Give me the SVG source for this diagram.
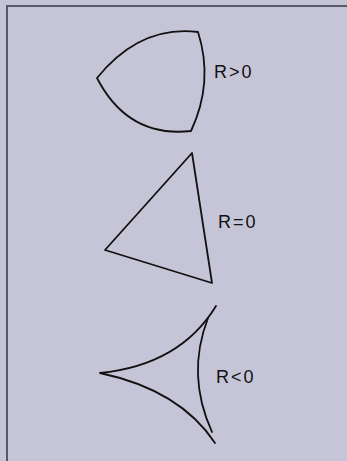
<svg xmlns="http://www.w3.org/2000/svg" width="347" height="461" viewBox="0 0 347 461">
<style>
.s{fill:none;stroke:#111;stroke-width:1.8;stroke-linejoin:round;stroke-linecap:round}
.t{font-family:"Liberation Sans",Arial,sans-serif;font-size:18px;fill:#111;letter-spacing:2px}
</style>
<rect x="0" y="0" width="347" height="461" fill="#c6c5d7"/>
<rect x="7" y="6" width="360" height="460" fill="none" stroke="#5a5a66" stroke-width="2"/>
<g id="positive">
<path class="s" d="M97,78 Q140,25 198,32 Q214,82 191,131 Q128,138 97,78 Z"/>
<text class="t" x="214" y="78">R&gt;0</text>
</g>
<g id="zero">
<path class="s" d="M192,153 L105,250 L212,283 Z"/>
<text class="t" x="218" y="228">R=0</text>
</g>
<g id="negative">
<path class="s" d="M216,306 Q180,365 100,373 Q180,390 215,443"/>
<path class="s" d="M208,318 Q186,375 212,432"/>
<text class="t" x="216" y="383">R&lt;0</text>
</g>
</svg>
